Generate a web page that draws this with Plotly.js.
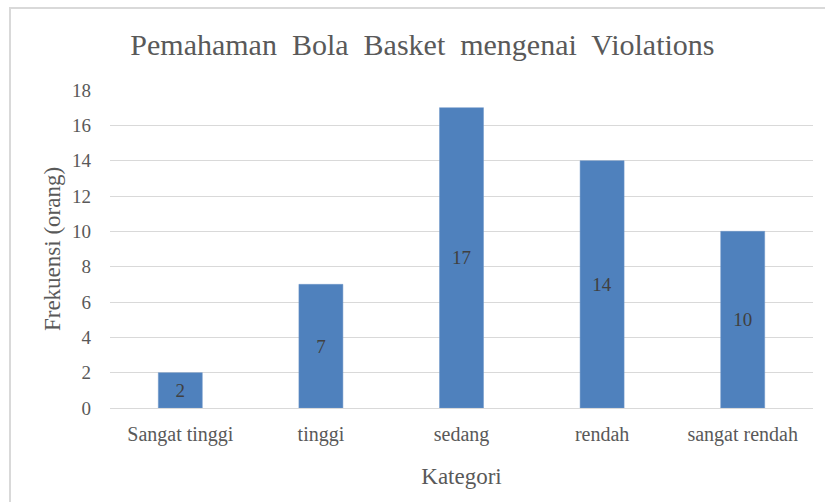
<!DOCTYPE html>
<html>
<head>
<meta charset="utf-8">
<script src="https://cdn.plot.ly/plotly-3.0.1.min.js"></script>
<style>
html,body{margin:0;padding:0;background:#fff;}
#wrap{position:relative;width:825px;height:502px;overflow:hidden;}
#chart{width:825px;height:502px;}
#frame{position:absolute;left:9px;top:7px;width:830px;height:510px;border:2px solid #d9d9d9;pointer-events:none;}
</style>
</head>
<body>
<div id="wrap"><div id="chart"></div><div id="frame"></div></div>
<script>
const categories = ["Sangat tinggi", "tinggi", "sedang", "rendah", "sangat rendah"];
const values = [2, 7, 17, 14, 10];
const yTicks = [0, 2, 4, 6, 8, 10, 12, 14, 16, 18];

const font = "Liberation Serif, Times New Roman, serif";
const trace = {
  type: 'bar',
  x: categories,
  y: values,
  text: values.map(String),
  textposition: 'inside',
  insidetextanchor: 'middle',
  textangle: 0,
  textfont: {family: font, size: 19, color: '#404040'},
  marker: {color: '#4F81BD', line: {color: '#6f97c9', width: 0.5}},
  hoverinfo: 'none'
};
const layout = {
  width: 825, height: 502,
  margin: {l: 110, r: 12, t: 90, b: 94},
  paper_bgcolor: 'rgba(0,0,0,0)', plot_bgcolor: '#fff',
  bargap: 0.687,
  showlegend: false,
  font: {family: font, color: '#595959'},
  title: {text: 'Pemahaman  Bola  Basket  mengenai  Violations', font: {family: font, size: 30, color: '#595959'}, x: 0.512, xanchor: 'center', y: 0.912, yanchor: 'middle'},
  xaxis: {
    type: 'category',
    tickfont: {family: font, size: 20, color: '#595959'},
    ticks: '', ticklabelstandoff: 8,
    showgrid: false, showline: true, linecolor: '#d9d9d9', linewidth: 1,
    title: {text: 'Kategori', font: {family: font, size: 23, color: '#595959'}, standoff: 22},
    automargin: false, fixedrange: true
  },
  yaxis: {
    range: [0, 18],
    tickvals: yTicks,
    ticktext: yTicks.map(String),
    tickfont: {family: font, size: 19, color: '#595959'},
    ticks: '', ticklabelstandoff: 18,
    showgrid: true, gridcolor: '#d9d9d9', gridwidth: 1,
    zeroline: true, zerolinecolor: '#d9d9d9', zerolinewidth: 1,
    title: {text: 'Frekuensi (orang)', font: {family: font, size: 23, color: '#595959'}, standoff: 4},
    automargin: false, fixedrange: true
  }
};
Plotly.newPlot('chart', [trace], layout, {displayModeBar: false, staticPlot: true});
</script>
</body>
</html>
